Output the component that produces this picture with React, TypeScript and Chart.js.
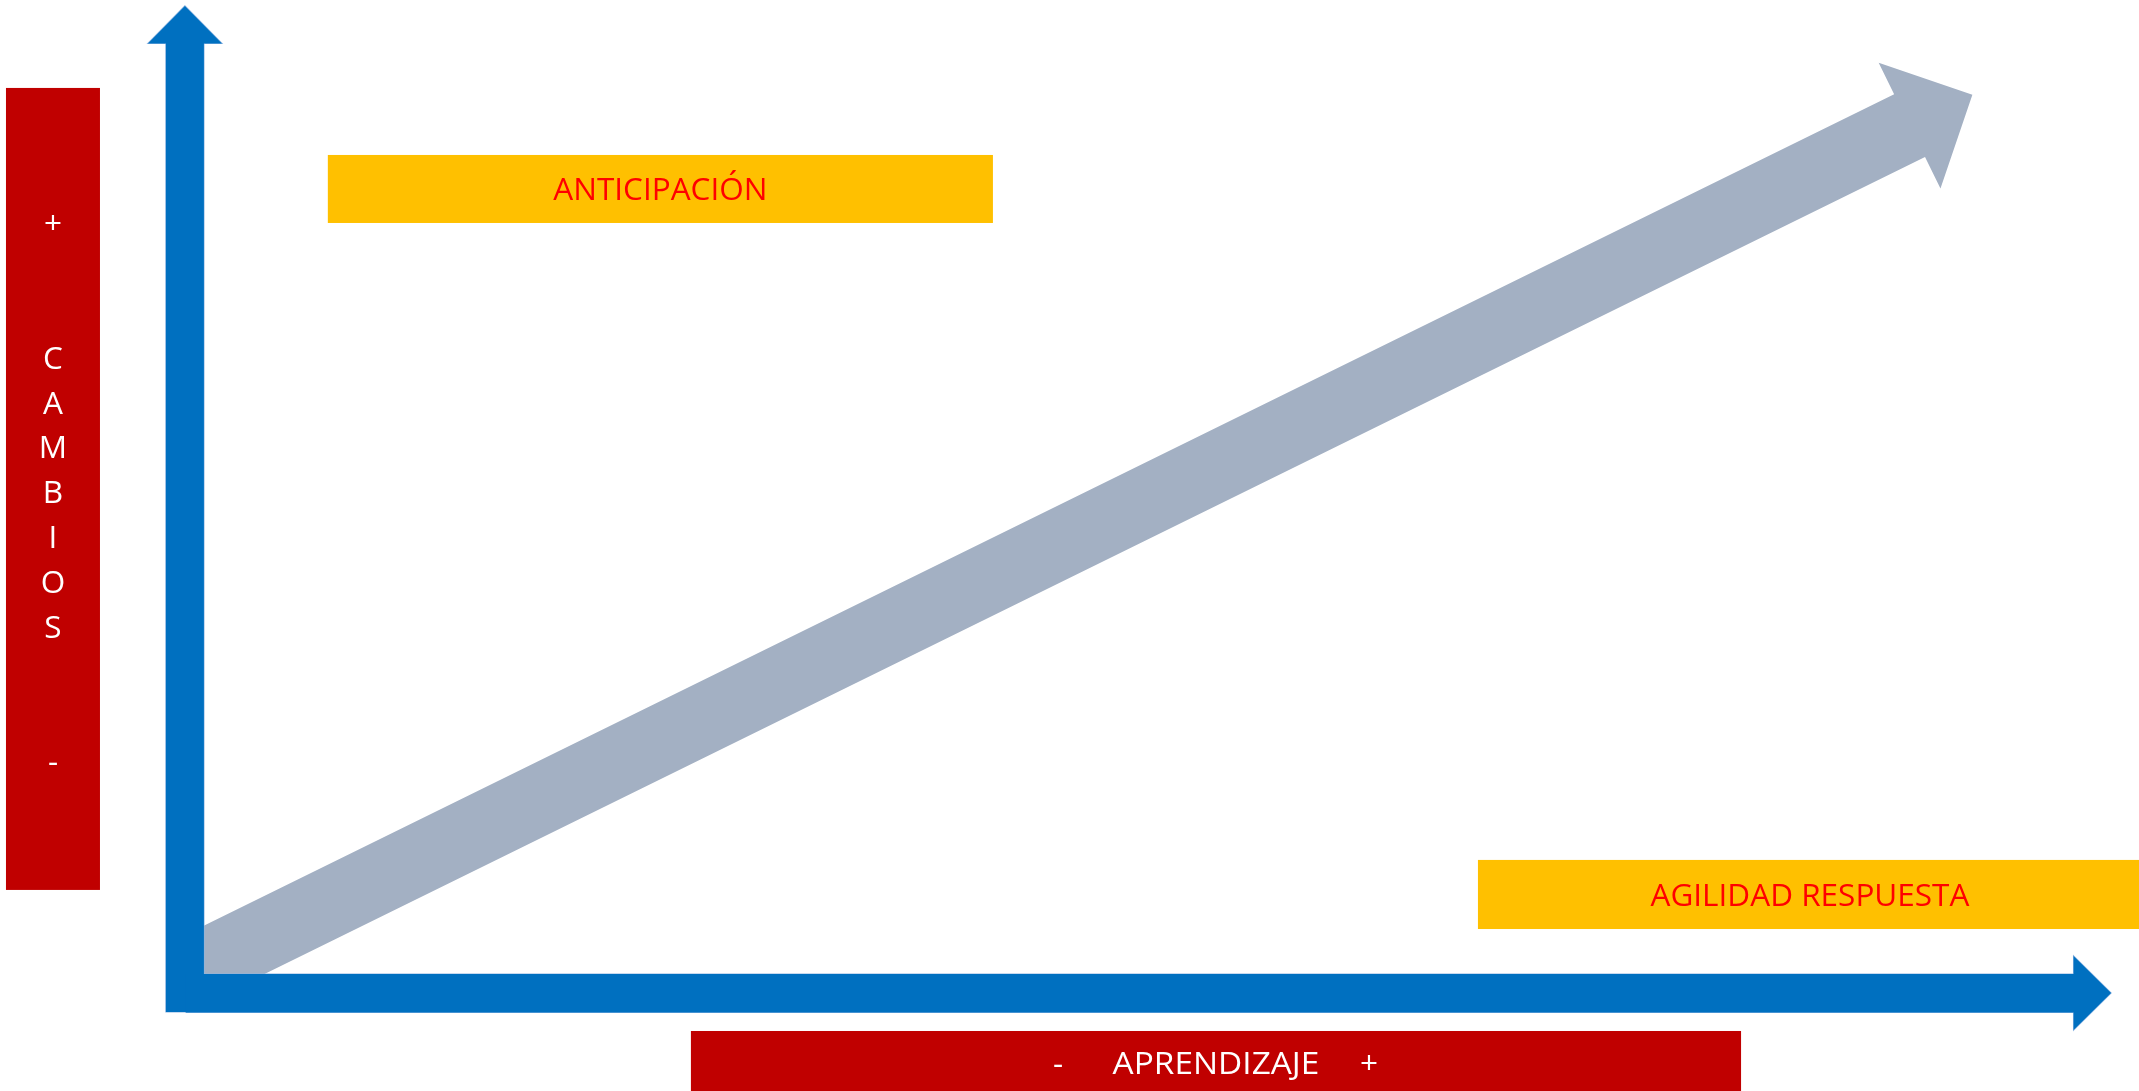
import React, { useEffect, useRef } from "react";
import { Chart, registerables } from "chart.js";

Chart.register(...registerables);

// ---- Data (conceptual axes: APRENDIZAJE on x, CAMBIOS on y, 0..100) ----
const yAxisLetters = ["+", "", "", "C", "A", "M", "B", "I", "O", "S", "", "", "-"];
const xAxisWords = ["-", "APRENDIZAJE", "+"];
const quadrantLabels = ["ANTICIPACIÓN", "AGILIDAD RESPUESTA"];
const trendX = [0.3, 92.8]; // tail -> tip of the grey arrow (Aprendizaje)
const trendY = [2.2, 91.0]; // tail -> tip of the grey arrow (Cambios)
const axisEndX = [0, 100];
const axisEndY = [0, 100];

// ---- Layout (positions in the axes' units) ----
const X_MIN = -9.6;
const X_MAX = 101.45;
const Y_MIN = -9.93;
const Y_MAX = 100.6;

const LEFT_BOX = { x0: -9.29, x1: -4.41, y0: 10.44, y1: 91.69 };
const BOTTOM_BOX = { x0: 26.27, x1: 80.79, y0: -10.3, y1: -3.85 };
const QUAD_BOXES = [
  { x0: 7.42, x1: 41.95, y0: 78.01, y1: 84.9 },
  { x0: 67.13, x1: 101.6, y0: 6.48, y1: 13.48 },
];
const LETTER_FIRST_Y = 78.01;
const LETTER_STEP_Y = 4.542;
const BOTTOM_WORD_OFFSETS = [-8.2, 0, 7.94];

// ---- Styles ----
const RED_BOX = "#C00000";
const YELLOW_BOX = "#FFC000";
const LABEL_RED = "#FF0000";
const AXIS_BLUE = "#0070C0";
const AXIS_EDGE = "#8DB4E2";
const TREND_GREY = "#A3B0C3";
const FONT_SIZE = 31.5;
const FONT = `${FONT_SIZE}px "Open Sans", "Noto Sans", sans-serif`;
const CAP = 0.714 * FONT_SIZE;
const AXIS_W = 38;
const AXIS_HEAD_HALF = 37;
const AXIS_HEAD_LEN = 37.5;
const TREND_HALF = 35;
const TREND_HEAD_HALF = 70;
const TREND_HEAD_LEN = 70;

const diagramPlugin = {
  id: "diagram",
  afterDatasetsDraw(chart: any) {
    const ctx = chart.ctx as CanvasRenderingContext2D;
    const sx = chart.scales.x;
    const sy = chart.scales.y;
    const px = (v: number) => sx.getPixelForValue(v);
    const py = (v: number) => sy.getPixelForValue(v);

    const rect = (b: any, color: string) => {
      ctx.fillStyle = color;
      const l = px(b.x0), r = px(b.x1), t = py(b.y1), btm = py(b.y0);
      ctx.fillRect(l, t, r - l, btm - t);
    };
    const path = (pts: number[][]) => {
      ctx.beginPath();
      pts.forEach((p, i) => (i === 0 ? ctx.moveTo(p[0], p[1]) : ctx.lineTo(p[0], p[1])));
      ctx.closePath();
    };
    const text = (s: string, x: number, yCenter: number, color: string, widthScale = 1) => {
      ctx.save();
      ctx.fillStyle = color;
      ctx.font = FONT;
      ctx.textAlign = "center";
      ctx.textBaseline = "alphabetic";
      ctx.translate(x, yCenter + CAP / 2);
      ctx.scale(widthScale, 1);
      ctx.fillText(s, 0, 0);
      ctx.restore();
    };

    ctx.save();

    // boxes
    rect(LEFT_BOX, RED_BOX);
    rect(BOTTOM_BOX, RED_BOX);
    QUAD_BOXES.forEach((b) => rect(b, YELLOW_BOX));

    // grey trend arrow
    const t0 = [px(trendX[0]), py(trendY[0])];
    const t1 = [px(trendX[1]), py(trendY[1])];
    const dx = t1[0] - t0[0], dy = t1[1] - t0[1];
    const len = Math.hypot(dx, dy);
    const ux = dx / len, uy = dy / len;
    const nx = -uy, ny = ux;
    const nb = [t1[0] - ux * TREND_HEAD_LEN, t1[1] - uy * TREND_HEAD_LEN];
    path([
      [t0[0] + nx * TREND_HALF, t0[1] + ny * TREND_HALF],
      [nb[0] + nx * TREND_HALF, nb[1] + ny * TREND_HALF],
      [nb[0] + nx * TREND_HEAD_HALF, nb[1] + ny * TREND_HEAD_HALF],
      t1,
      [nb[0] - nx * TREND_HEAD_HALF, nb[1] - ny * TREND_HEAD_HALF],
      [nb[0] - nx * TREND_HALF, nb[1] - ny * TREND_HALF],
      [t0[0] - nx * TREND_HALF, t0[1] - ny * TREND_HALF],
    ]);
    ctx.fillStyle = TREND_GREY;
    ctx.fill();

    // blue axes
    const ox = px(axisEndX[0]);
    const oy = py(axisEndY[0]);
    const xTip = px(axisEndX[1]);
    const yTip = py(axisEndY[1]);
    const hw = AXIS_W / 2;
    const vertical = [
      [ox - hw, oy + hw],
      [ox - hw, yTip + AXIS_HEAD_LEN],
      [ox - AXIS_HEAD_HALF, yTip + AXIS_HEAD_LEN],
      [ox, yTip],
      [ox + AXIS_HEAD_HALF, yTip + AXIS_HEAD_LEN],
      [ox + hw, yTip + AXIS_HEAD_LEN],
      [ox + hw, oy + hw],
    ];
    const horizontal = [
      [ox + 1, oy - hw],
      [xTip - AXIS_HEAD_LEN, oy - hw],
      [xTip - AXIS_HEAD_LEN, oy - AXIS_HEAD_HALF],
      [xTip, oy],
      [xTip - AXIS_HEAD_LEN, oy + AXIS_HEAD_HALF],
      [xTip - AXIS_HEAD_LEN, oy + hw + 0.5],
      [ox + 1, oy + hw + 0.5],
    ];
    ctx.lineWidth = 1.2;
    ctx.strokeStyle = AXIS_EDGE;
    path(vertical);
    ctx.stroke();
    path(horizontal);
    ctx.stroke();
    ctx.fillStyle = AXIS_BLUE;
    path(vertical);
    ctx.fill();
    path(horizontal);
    ctx.fill();

    // texts
    const lx = (px(LEFT_BOX.x0) + px(LEFT_BOX.x1)) / 2;
    yAxisLetters.forEach((s, i) => {
      if (s) text(s, lx, py(LETTER_FIRST_Y - i * LETTER_STEP_Y), "#FFFFFF");
    });
    const bcx = (BOTTOM_BOX.x0 + BOTTOM_BOX.x1) / 2;
    const bcy = (py(BOTTOM_BOX.y0) + py(BOTTOM_BOX.y1)) / 2;
    xAxisWords.forEach((s, i) =>
      text(s, px(bcx + BOTTOM_WORD_OFFSETS[i]), bcy, "#FFFFFF", s.length > 1 ? 1.06 : 1)
    );
    QUAD_BOXES.forEach((b, i) => {
      const cx = (px(b.x0) + px(Math.min(b.x1, X_MAX + 0.2))) / 2;
      const cy = (py(b.y0) + py(b.y1)) / 2;
      text(quadrantLabels[i], cx, cy, LABEL_RED);
    });

    ctx.restore();
  },
};

export default function App() {
  const ref = useRef<HTMLCanvasElement | null>(null);
  useEffect(() => {
    if (!ref.current) return;
    const chart = new Chart(ref.current, {
      type: "scatter",
      data: {
        datasets: [
          {
            data: trendX.map((x, i) => ({ x, y: trendY[i] })),
            showLine: false,
            pointRadius: 0,
          },
        ],
      },
      options: {
        animation: false,
        responsive: false,
        devicePixelRatio: 1,
        events: [],
        layout: { padding: 0 },
        plugins: { legend: { display: false }, tooltip: { enabled: false }, title: { display: false } },
        scales: {
          x: { type: "linear", display: false, min: X_MIN, max: X_MAX },
          y: { type: "linear", display: false, min: Y_MIN, max: Y_MAX },
        },
      },
      plugins: [diagramPlugin],
    } as any);
    let alive = true;
    if ((document as any).fonts && (document as any).fonts.load) {
      (document as any).fonts.load(FONT).then(() => {
        if (alive) chart.update();
      }).catch(() => {});
    }
    return () => {
      alive = false;
      chart.destroy();
    };
  }, []);
  return (
    <div style={{ position: "absolute", left: 0, top: 0, width: 2139, height: 1091, background: "#FFFFFF" }}>
      <canvas ref={ref} width={2139} height={1091} style={{ display: "block", width: 2139, height: 1091 }} />
    </div>
  );
}
